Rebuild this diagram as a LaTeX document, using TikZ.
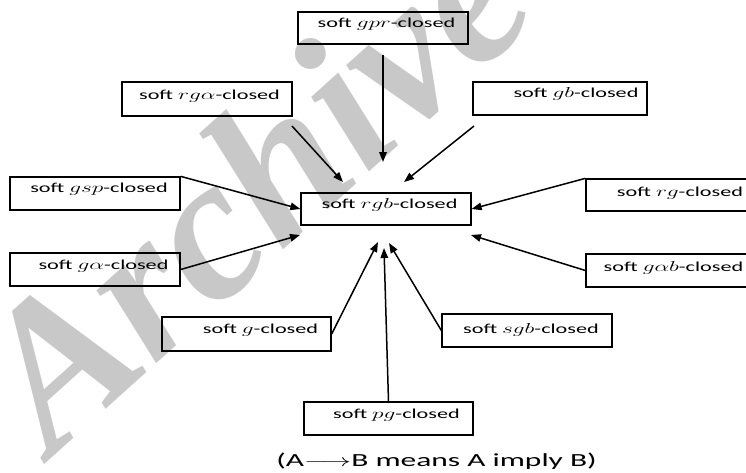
\documentclass[tikz,border=0pt]{standalone}
\usepackage{fontspec}
\setmainfont{Carlito}
\newfontfamily\wmfont{Liberation Serif}
\usetikzlibrary{arrows.meta}
\definecolor{wmgray}{RGB}{200,200,200}
\newcommand\stretchlab[1]{\scalebox{1.62}[1]{#1}}
\tikzset{
  box/.style={draw, line width=1.3pt, minimum width=170pt, minimum height=33pt, inner sep=0pt},
  lbl/.style={anchor=base, inner sep=0pt, font=\fontsize{13.7}{16}\selectfont},
  imp/.style={line width=1.5pt, -{Triangle[length=10pt,width=7.5pt]}},
}
\begin{document}
\begin{tikzpicture}[x=1pt,y=-1pt]
\useasboundingbox (0,0) rectangle (746,472);
% watermark
\node[rotate=42, anchor=base west, text=wmgray, inner sep=0pt,
      font=\wmfont\bfseries\itshape\fontsize{205}{205}\selectfont] (wm) at (52,458) {Archive};
% boxes
\node[box, minimum width=170pt, minimum height=32pt] (gpr) at (383,28) {};
\node[box, minimum height=34pt] (rga) at (207,99) {};
\node[box, minimum width=174pt] (gb) at (560,98.5) {};
\node[box] (gsp) at (95,193.5) {};
\node[box, minimum height=32pt] (rgb) at (386,209) {};
\node[box, minimum height=32pt] (rg) at (671,195) {};
\node[box] (ga) at (95,269.5) {};
\node[box] (gab) at (671,270.5) {};
\node[box, minimum width=169pt, minimum height=34pt] (g) at (246.5,334) {};
\node[box] (sgb) at (527,330.5) {};
\node[box, minimum width=169pt] (pg) at (388.5,418.5) {};
% labels
\node[lbl] (t-gpr) at (386.5,27) {\stretchlab{soft $gpr$-closed}};
\node[lbl] (t-rga) at (209.5,99) {\stretchlab{soft $rg\alpha$-closed}};
\node[lbl] (t-gb) at (576,97) {\stretchlab{soft $gb$-closed}};
\node[lbl] (t-gsp) at (99,192) {\stretchlab{soft $gsp$-closed}};
\node[lbl] (t-rgb) at (389.5,208) {\stretchlab{soft $rgb$-closed}};
\node[lbl] (t-rg) at (680,196) {\stretchlab{soft $rg$-closed}};
\node[lbl] (t-ga) at (103.5,269) {\stretchlab{soft $g\alpha$-closed}};
\node[lbl] (t-gab) at (673.5,271) {\stretchlab{soft $g\alpha b$-closed}};
\node[lbl] (t-g) at (260.5,333) {\stretchlab{soft $g$-closed}};
\node[lbl] (t-sgb) at (531,333) {\stretchlab{soft $sgb$-closed}};
\node[lbl] (t-pg) at (396.5,418) {\stretchlab{soft $pg$-closed}};
% caption
\node[anchor=base, inner sep=0pt, font=\fontsize{18.5}{22}\selectfont] (cap) at (436.5,466)
  {\scalebox{1.7}[1]{(A$\longrightarrow$B means A imply B)}};
% free ends
\coordinate (gprS) at (383,55);
\coordinate (gprT) at (383,162);
\coordinate (rgaS) at (292,126);
\coordinate (rgaT) at (343,182);
\coordinate (gbS) at (474,126);
\coordinate (gbT) at (404,182);
\coordinate (gaT) at (300,235);
\coordinate (gabT) at (471,235);
\coordinate (gT) at (378,242);
\coordinate (pgT) at (384,248);
\coordinate (sgbT) at (389,243);
% arrows
\draw[imp] (gprS) -- (gprT);
\draw[imp] (rgaS) -- (rgaT);
\draw[imp] (gbS) -- (gbT);
\draw[imp] (gsp.north east) -- (rgb.west);
\draw[imp] (ga.east) -- (gaT);
\draw[imp] (rg.north west) -- (rgb.east);
\draw[imp] (gab.west) -- (gabT);
\draw[imp] (g.east) -- (gT);
\draw[imp] (pg.north) -- (pgT);
\draw[imp] (sgb.west) -- (sgbT);
\end{tikzpicture}
\end{document}
